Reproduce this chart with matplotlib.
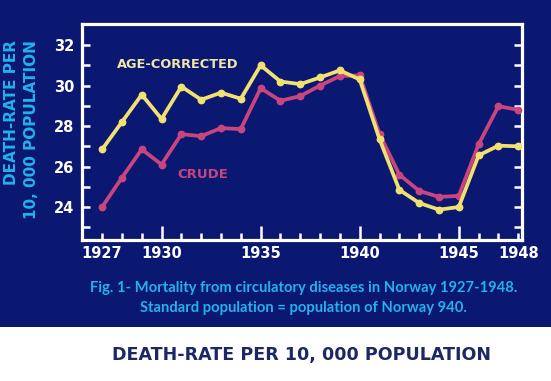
# Mortality from circulatory diseases in Norway 1927-1948
# (slide style: navy background, white frame, caption + white strip below)
import matplotlib
matplotlib.use("Agg")
import matplotlib.pyplot as plt
from matplotlib.patches import Rectangle
from matplotlib.ticker import FixedLocator, FuncFormatter

years = list(range(1927, 1949))
age_corrected = [26.85, 28.2, 29.55, 28.35, 29.95, 29.3, 29.65, 29.35, 31.0, 30.2, 30.07,
                 30.4, 30.75, 30.3, 27.35, 24.85, 24.2, 23.87, 24.0, 26.55, 27.03, 27.0]
crude = [24.0, 25.45, 26.85, 26.1, 27.6, 27.5, 27.9, 27.85, 29.87, 29.25, 29.48,
         30.0, 30.47, 30.5, 27.6, 25.6, 24.8, 24.5, 24.55, 27.1, 28.98, 28.8]

x_major = [1930, 1935, 1940, 1945]
x_edge_labels = [1927, 1948]
y_labels = [24, 26, 28, 30, 32]

navy = "#0b1872"
yellow = "#f2e070"
pink = "#c8457e"
cyan = "#22b2ec"

fig = plt.figure(figsize=(5.51, 3.81), dpi=100)
fig.patch.set_facecolor(navy)
# white strip at the bottom of the slide
fig.add_artist(Rectangle((0, 0), 1, 54 / 381, transform=fig.transFigure,
                         facecolor="white", edgecolor="none", zorder=0))

ax = fig.add_axes([0.149, 0.37, 0.798, 0.567])
ax.set_facecolor(navy)

ax.plot(years, crude, color=pink, lw=2.7, marker="o", ms=4.6, zorder=3)
ax.plot(years, age_corrected, color=yellow, lw=2.7, marker="o", ms=4.6, zorder=4)

ax.set_xlim(1925.99, 1948.18)
ax.set_ylim(22.37, 33.04)

for s in ax.spines.values():
    s.set_color("white")
    s.set_linewidth(2.3)

# y: a tick at every unit, labels on even values, ticks on both sides
ax.set_yticks(y_labels)
ax.yaxis.set_minor_locator(FixedLocator(range(23, 33)))
ax.tick_params(axis="y", which="both", direction="in", left=True, right=True,
               length=5.5, width=1.8, color="white", pad=5.5)

# x: short tick every year, long tick every 5 years; 1927 and 1948 labelled too
ax.set_xticks(x_major)
ax.xaxis.set_minor_locator(FixedLocator(years))
ax.xaxis.set_minor_formatter(FuncFormatter(
    lambda v, p: str(int(round(v))) if int(round(v)) in x_edge_labels else ""))
ax.tick_params(axis="x", which="major", direction="in", length=10, width=1.8,
               color="white", pad=4.5)
ax.tick_params(axis="x", which="minor", direction="in", length=5, width=1.8,
               color="white", pad=4.5)

for lab in ax.get_xticklabels(which="both") + ax.get_yticklabels():
    lab.set_color("white")
    lab.set_fontweight("bold")
    lab.set_fontsize(10.5)
    lab.set_family("DejaVu Sans")

ax.text(1927.76, 31.05, "AGE-CORRECTED", color="#efe6a8", fontsize=9.3,
        fontweight="bold", ha="left", va="center")
ax.text(1930.78, 25.62, "CRUDE", color=pink, fontsize=9.5,
        fontweight="bold", ha="left", va="center")

# rotated y label, two lines aligned at the top
fig.text(12 / 551, 1 - 40 / 381, "DEATH-RATE PER", rotation=90, color=cyan,
         fontsize=11, fontweight="bold", ha="center", va="top")
fig.text(32 / 551, 1 - 40 / 381, "10, 000 POPULATION", rotation=90, color=cyan,
         fontsize=11, fontweight="bold", ha="center", va="top")

cap = dict(color=cyan, fontsize=10.6, fontweight="bold", ha="center", va="center",
           family=["Lato", "DejaVu Sans"])
fig.text(304 / 551, 1 - 288 / 381,
         "Fig. 1- Mortality from circulatory diseases in Norway 1927-1948.", **cap)
fig.text(303 / 551, 1 - 308 / 381,
         "Standard population = population of Norway 940.", **cap)

fig.text(302 / 551, 1 - 355 / 381, "DEATH-RATE PER 10, 000 POPULATION",
         color="#1c2766", fontsize=12.6, fontweight="bold", ha="center", va="center")

plt.savefig("out.png", dpi=100, facecolor=fig.get_facecolor())
